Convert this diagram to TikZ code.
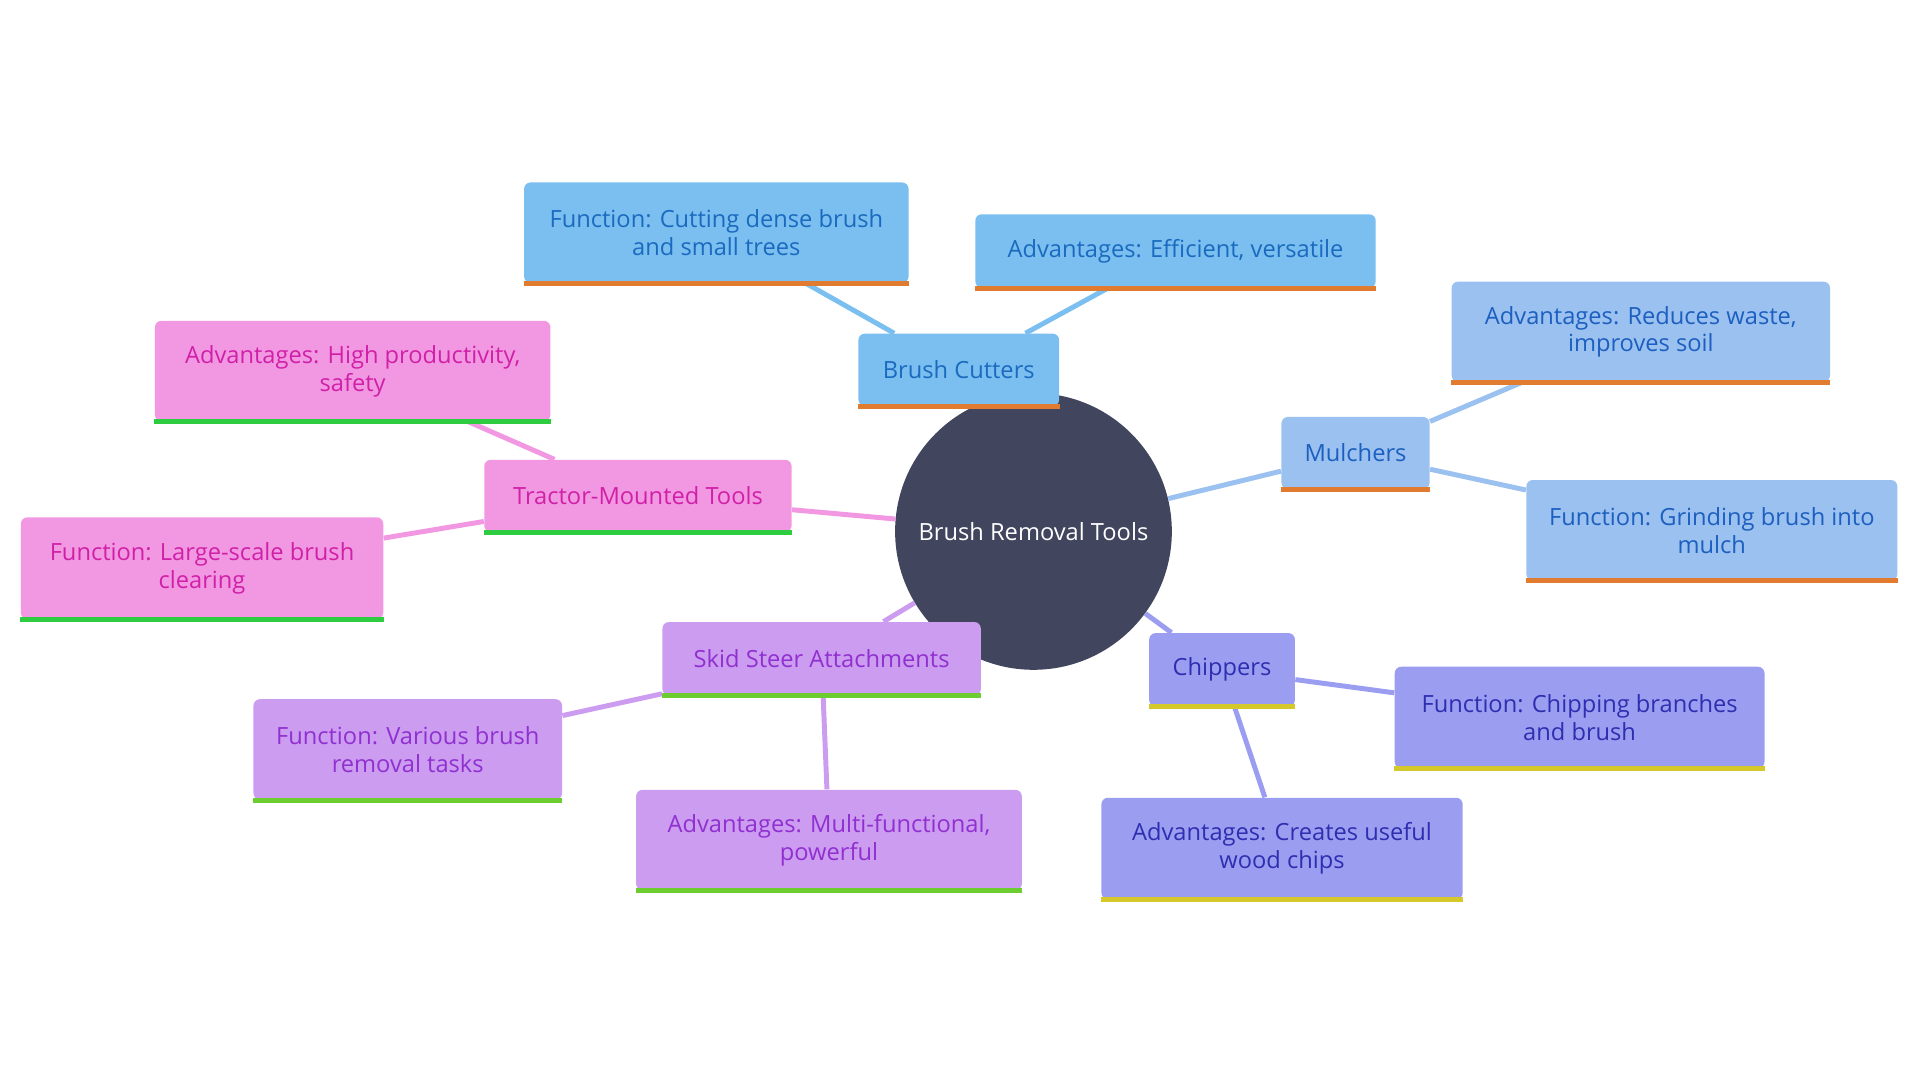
\documentclass[tikz,border=0pt]{standalone}
\usepackage{fontspec}
\setmainfont{Open Sans}
\usetikzlibrary{backgrounds}
\definecolor{hub}{HTML}{41455E}
\definecolor{bcfill}{HTML}{7BBEF0}\definecolor{bctext}{HTML}{1A6BBF}
\definecolor{mufill}{HTML}{9AC1EF}\definecolor{mutext}{HTML}{1D5FC0}
\definecolor{chfill}{HTML}{9B9EF0}\definecolor{chtext}{HTML}{2E2EB0}
\definecolor{ssfill}{HTML}{CC9CF0}\definecolor{sstext}{HTML}{9030D0}
\definecolor{trfill}{HTML}{F298E2}\definecolor{trtext}{HTML}{D020A8}
\definecolor{barorange}{HTML}{E07B30}
\definecolor{baryellow}{HTML}{D4C82A}
\definecolor{barlime}{HTML}{6CCC30}
\definecolor{bargreen}{HTML}{2ECC40}
\tikzset{
  box/.style={rectangle, rounded corners=3pt, align=center, inner sep=0pt,
    font=\fontsize{11}{13}\selectfont},
  bc/.style={box, fill=bcfill, text=bctext},
  mu/.style={box, fill=mufill, text=mutext},
  ch/.style={box, fill=chfill, text=chtext},
  ss/.style={box, fill=ssfill, text=sstext},
  tr/.style={box, fill=trfill, text=trtext},
  link/.style={line width=2.3pt}
}
\begin{document}
\begin{tikzpicture}[x=0.02cm, y=-0.02cm]
  \useasboundingbox (0,0) rectangle (1568,882);

  \node[circle, fill=hub, text=white, minimum size=226*0.02cm, font=\fontsize{11}{13}\selectfont] (hub) at (844,434) {Brush Removal Tools};

  \node[bc, minimum width=164*0.02cm, minimum height=59*0.02cm] (cut) at (783,302) {Brush Cutters};
  \node[bc, minimum width=314*0.02cm, minimum height=82*0.02cm] (cutf) at (585,190) {Function: Cutting dense brush\\and small trees};
  \node[bc, minimum width=327*0.02cm, minimum height=60*0.02cm] (cuta) at (960,205) {Advantages: Efficient, versatile};

  \node[mu, minimum width=121*0.02cm, minimum height=59*0.02cm] (mul) at (1107,370) {Mulchers};
  \node[mu, minimum width=309*0.02cm, minimum height=82*0.02cm] (mula) at (1340,271) {Advantages: Reduces waste,\\improves soil};
  \node[mu, minimum width=303*0.02cm, minimum height=82*0.02cm] (mulf) at (1398,433) {Function: Grinding brush into\\mulch};

  \node[ch, minimum width=119*0.02cm, minimum height=60*0.02cm] (chip) at (998,547) {Chippers};
  \node[ch, minimum width=302*0.02cm, minimum height=83*0.02cm] (chipf) at (1290,586) {Function: Chipping branches\\and brush};
  \node[ch, minimum width=295*0.02cm, minimum height=83*0.02cm] (chipa) at (1047,693) {Advantages: Creates useful\\wood chips};

  \node[ss, minimum width=260*0.02cm, minimum height=60*0.02cm] (skid) at (671,538) {Skid Steer Attachments};
  \node[ss, minimum width=252*0.02cm, minimum height=82*0.02cm] (skidf) at (333,612) {Function: Various brush\\removal tasks};
  \node[ss, minimum width=315*0.02cm, minimum height=82*0.02cm] (skida) at (677,686) {Advantages: Multi-functional,\\powerful};

  \node[tr, minimum width=251*0.02cm, minimum height=59*0.02cm] (trac) at (521,405) {Tractor-Mounted Tools};
  \node[tr, minimum width=323*0.02cm, minimum height=82*0.02cm] (traca) at (288,303) {Advantages: High productivity,\\safety};
  \node[tr, minimum width=296*0.02cm, minimum height=83*0.02cm] (tracf) at (165,464) {Function: Large-scale brush\\clearing};

  % bottom bars
  \foreach \n/\c in {cut/barorange, cutf/barorange, cuta/barorange,
      mul/barorange, mula/barorange, mulf/barorange,
      chip/baryellow, chipf/baryellow, chipa/baryellow,
      skid/barlime, skidf/barlime, skida/barlime,
      trac/bargreen, traca/bargreen, tracf/bargreen}
    \draw[\c, line width=2.3pt] (\n.south west) -- (\n.south east);

  \begin{scope}[on background layer]
    \draw[link, bcfill] (hub) -- (cut);
    \draw[link, bcfill] (cut) -- (cutf);
    \draw[link, bcfill] (cut) -- (cuta);
    \draw[link, mufill] (hub) -- (mul);
    \draw[link, mufill] (mul) -- (mula);
    \draw[link, mufill] (mul) -- (mulf);
    \draw[link, chfill] (hub) -- (chip);
    \draw[link, chfill] (chip) -- (chipf);
    \draw[link, chfill] (chip) -- (chipa);
    \draw[link, ssfill] (hub) -- (skid);
    \draw[link, ssfill] (skid) -- (skidf);
    \draw[link, ssfill] (skid) -- (skida);
    \draw[link, trfill] (hub) -- (trac);
    \draw[link, trfill] (trac) -- (traca);
    \draw[link, trfill] (trac) -- (tracf);
  \end{scope}
\end{tikzpicture}
\end{document}
